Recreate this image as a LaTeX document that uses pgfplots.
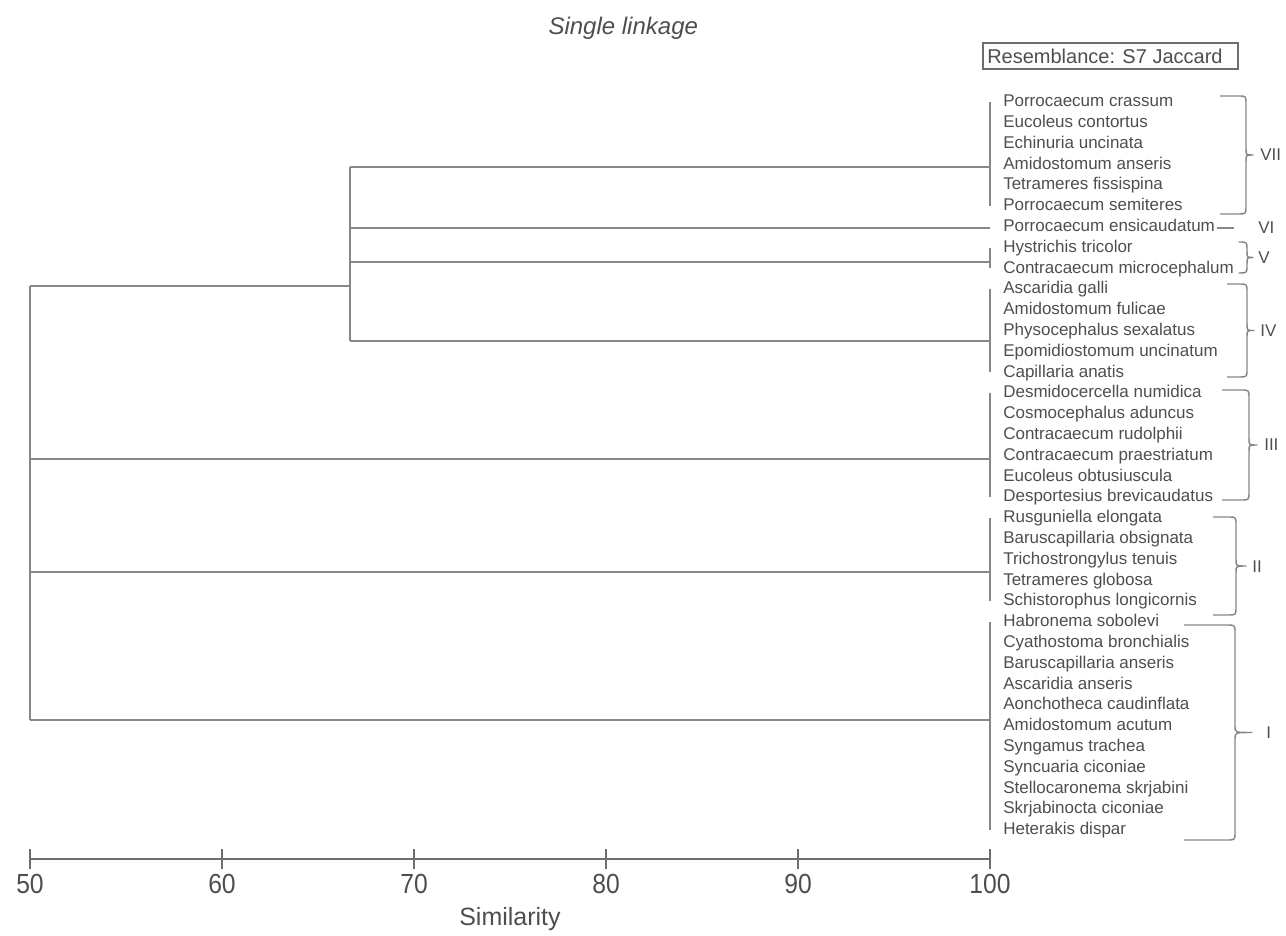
\documentclass[border=0pt]{standalone}
\usepackage{graphicx}
\usepackage{pgfplots}
\pgfplotsset{compat=1.18}
\usepackage{fontspec}
\setmainfont{Liberation Sans}
\definecolor{lin}{RGB}{135,135,135}
\definecolor{axg}{RGB}{110,110,110}
\definecolor{txt}{RGB}{78,78,78}
\pgfplotsset{dend/.style={lin, line width=1.3pt, no marks, forget plot}}
\newcommand{\rbr}[5]{% xb xa xt top bottom (pixels)
  \draw[lin, line width=1.1pt, line join=round]
   (#1,#4) -- ({#2-8},#4) .. controls (#2,#4) .. (#2,{#4+8})
   -- (#2,{(#4+#5)/2-6}) .. controls (#2,{(#4+#5)/2}) .. (#3,{(#4+#5)/2})
   .. controls (#2,{(#4+#5)/2}) .. (#2,{(#4+#5)/2+6})
   -- (#2,{#5-8}) .. controls (#2,#5) .. ({#2-8},#5) -- (#1,#5);}
\begin{document}
\begin{tikzpicture}
\begin{axis}[
  x=14.4pt, y=15.6pt,
  xmin=50, xmax=100, ymin=-36.4, ymax=0.5,
  axis x line=bottom, axis y line=right,
  x axis line style={-, draw=axg, line width=1.2pt},
  y axis line style={draw=none},
  xtick={50,60,...,100},
  tick align=center, major tick length=15pt,
  xtick style={draw=axg, line width=1.2pt},
  ytick style={draw=none},
  /pgf/number format/assume math mode=true,
  xticklabel={\scalebox{1}[1.12]{\pgfmathprintnumber{\tick}}},
  xticklabel style={font=\fontsize{18.5}{20}\selectfont, text=txt},
  ytick={0,-1,...,-35},
  yticklabels={Porrocaecum crassum, Eucoleus contortus, Echinuria uncinata, Amidostomum anseris, Tetrameres fissispina, Porrocaecum semiteres, Porrocaecum ensicaudatum, Hystrichis tricolor, Contracaecum microcephalum, Ascaridia galli, Amidostomum fulicae, Physocephalus sexalatus, Epomidiostomum uncinatum, Capillaria anatis, Desmidocercella numidica, Cosmocephalus aduncus, Contracaecum rudolphii, Contracaecum praestriatum, Eucoleus obtusiuscula, Desportesius brevicaudatus, Rusguniella elongata, Baruscapillaria obsignata, Trichostrongylus tenuis, Tetrameres globosa, Schistorophus longicornis, Habronema sobolevi, Cyathostoma bronchialis, Baruscapillaria anseris, Ascaridia anseris, Aonchotheca caudinflata, Amidostomum acutum, Syngamus trachea, Syncuaria ciconiae, Stellocaronema skrjabini, Skrjabinocta ciconiae, Heterakis dispar},
  yticklabel style={font=\fontsize{12.75}{14}\selectfont, text=txt, anchor=west, inner sep=0pt, text height=0.716em, text depth=0pt, xshift=2.25pt},
  xlabel={Similarity},
  xlabel style={font=\fontsize{18.75}{20}\selectfont, text=txt, at={(axis cs:75,-39.18)}, anchor=center, yshift=-1.5pt},
  title={\itshape Single linkage},
  title style={font=\fontsize{18}{20}\selectfont, text=txt, at={(axis cs:80.9,3.65)}, anchor=center, yshift=-7.5pt},
  clip=false,
]
% group VII
\addplot[dend] coordinates {(100,0) (100,-5)};
\addplot[dend] coordinates {(100,-3.125) (66.667,-3.125)};
% group VI
\addplot[dend] coordinates {(100,-6.06) (66.667,-6.06)};
% group V
\addplot[dend] coordinates {(100,-7) (100,-8)};
\addplot[dend] coordinates {(100,-7.69) (66.667,-7.69)};
% group IV
\addplot[dend] coordinates {(100,-9) (100,-13)};
\addplot[dend] coordinates {(100,-11.49) (66.667,-11.49)};
% join of VII-IV
\addplot[dend] coordinates {(66.667,-3.125) (66.667,-11.49)};
\addplot[dend] coordinates {(66.667,-8.85) (50,-8.85)};
% group III
\addplot[dend] coordinates {(100,-14) (100,-19)};
\addplot[dend] coordinates {(100,-17.16) (50,-17.16)};
% group II
\addplot[dend] coordinates {(100,-20) (100,-24)};
\addplot[dend] coordinates {(100,-22.6) (50,-22.6)};
% group I
\addplot[dend] coordinates {(100,-25) (100,-35)};
\addplot[dend] coordinates {(100,-29.71) (50,-29.71)};
% root
\addplot[dend] coordinates {(50,-8.85) (50,-29.71)};
\coordinate (O) at (axis cs:50,0);
\end{axis}
\begin{scope}[shift={(O)}, x=0.75pt, y=-0.75pt, shift={(-30,-102)}]
\path (0,0) rectangle (1286,930);
% resemblance box
\draw[axg, line width=0.9pt] (983,43) rectangle (1238,69);
\node[anchor=west, inner sep=0pt, text=txt, font=\fontsize{15}{16}\selectfont] at (987,56.5) {Resemblance: S7 Jaccard};
% braces
\rbr{1220}{1246}{1253}{96}{214}
\node[anchor=west, inner sep=0pt, text=txt, font=\fontsize{12.75}{14}\selectfont] at (1260,155) {VII};
\draw[lin, line width=1.1pt] (1217,228) -- (1234,228);
\node[anchor=west, inner sep=0pt, text=txt, font=\fontsize{12.75}{14}\selectfont] at (1258,228) {VI};
\rbr{1240}{1247}{1253}{242}{273}
\node[anchor=west, inner sep=0pt, text=txt, font=\fontsize{12.75}{14}\selectfont] at (1258,258) {V};
\rbr{1227}{1247}{1254}{284}{377}
\node[anchor=west, inner sep=0pt, text=txt, font=\fontsize{12.75}{14}\selectfont] at (1260,331) {IV};
\rbr{1222}{1249}{1257}{390}{500}
\node[anchor=west, inner sep=0pt, text=txt, font=\fontsize{12.75}{14}\selectfont] at (1264,445) {III};
\rbr{1213}{1236}{1246}{517}{615}
\node[anchor=west, inner sep=0pt, text=txt, font=\fontsize{12.75}{14}\selectfont] at (1252,567) {II};
\rbr{1184}{1235}{1252}{625}{840}
\node[anchor=west, inner sep=0pt, text=txt, font=\fontsize{12.75}{14}\selectfont] at (1266,733) {I};
\end{scope}
\end{tikzpicture}
\end{document}
